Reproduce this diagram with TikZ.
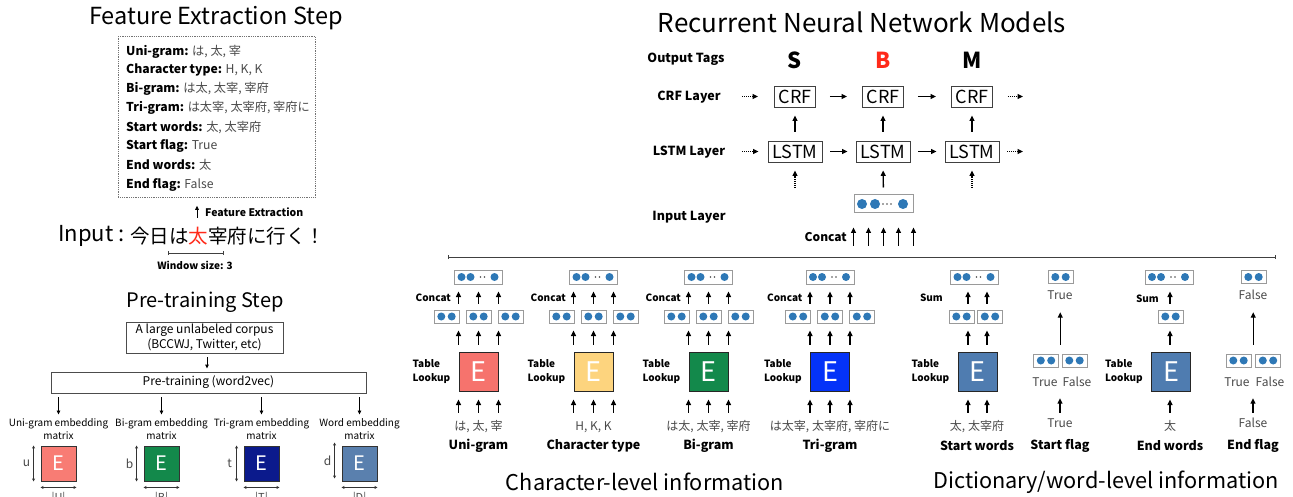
\documentclass[tikz,border=0pt]{standalone}
\usepackage{fontspec}
\setmainfont{Noto Sans CJK JP}
\usetikzlibrary{arrows.meta,calc}
\definecolor{valg}{HTML}{4A4A4A}
\definecolor{dotc}{HTML}{2E78B6}
\definecolor{cUni}{HTML}{F6736D}
\definecolor{cUniP}{HTML}{F87C74}
\definecolor{cTyp}{HTML}{FDD47E}
\definecolor{cBi}{HTML}{13894B}
\definecolor{cTri}{HTML}{0433F8}
\definecolor{cTriP}{HTML}{0B1A8C}
\definecolor{cWrd}{HTML}{4F7CB0}
\definecolor{cWrdP}{HTML}{5A80AE}
\definecolor{tagred}{HTML}{FF2A1A}
\definecolor{vbord}{HTML}{9A9A9A}
\newcommand\fsz[1]{\fontsize{#1}{#1}\selectfont}
\tikzset{
  x=1pt,y=-1pt,
  arr/.style={-{Triangle[length=5.5pt,width=5pt]},line width=1.3pt},
  darr/.style={arr,dash pattern=on 1pt off 1pt},
  sarr/.style={-{Triangle[length=4pt,width=3.6pt]},line width=0.9pt},
  vb/.style={draw=vbord,fill=white,line width=1pt,inner sep=0pt,minimum height=13pt},
  sq/.style={draw=black!85,line width=1pt,minimum size=39pt,inner sep=0pt,text=white,font=\fsz{27}},
  psq/.style={draw=black!80,line width=0.9pt,minimum size=35pt,inner sep=0pt,text=white,font=\fsz{20}},
  lab/.style={font=\bfseries\fontsize{10}{14}\selectfont,inner sep=0pt,align=left},
  rlab/.style={font=\bfseries\fsz{12.5},inner sep=0pt},
  val/.style={font=\fsz{12},text=valg,inner sep=0pt,text height=9pt,text depth=2pt},
  gname/.style={font=\bfseries\fsz{12.5},inner sep=0pt},
  title/.style={font=\fsz{20},inner sep=0pt},
  fline/.style={anchor=west,font=\fsz{12.2},inner sep=0pt},
  rnnbox/.style={draw=black!75,line width=0.9pt,inner sep=0pt,minimum height=21pt,font=\fsz{18}},
  dimarr/.style={{Stealth[length=3pt,width=3pt]}-{Stealth[length=3pt,width=3pt]},line width=0.7pt,black!80},
  barline/.style={{Bar[width=4pt]}-{Bar[width=4pt]},line width=0.7pt,black!75},
}
\newcommand\twovec[3]{%
  \node[vb,minimum width=25pt] (#1) at (#2,#3) {};
  \fill[dotc] ($(#1.center)+(-5.2,0)$) circle (4pt) ($(#1.center)+(5.2,0)$) circle (4pt);}
\newcommand\longvec[3]{%
  \node[vb,minimum width=48pt,minimum height=14pt] (#1) at (#2,#3) {};
  \fill[dotc] ($(#1.center)+(-17,0)$) circle (4pt) ($(#1.center)+(-8,0)$) circle (4pt)
     ($(#1.center)+(16,0)$) circle (4pt);
  \fill[black!70] ($(#1.center)+(2,0)$) circle (0.8pt) ($(#1.center)+(6,0)$) circle (0.8pt);}
\newcommand\chargroup[5]{%
  \node[sq,fill=#3] (#1sq) at (#2,371.5) {E};
  \node[lab,anchor=east] (#1tl) at ($(#1sq.west)+(-8,0)$) {Table\\Lookup};
  \node[val] (#1in) at (#2,427) {#4};
  \node[gname] (#1nm) at (#2,446) {#5};
  \longvec{#1top}{#2}{277}
  \twovec{#1ma}{#2-32}{316.5}
  \twovec{#1mb}{#2}{316.5}
  \twovec{#1mc}{#2+32}{316.5}
  \node[lab,anchor=east] (#1cc) at ($(#1top.south west)+(-3,13)$) {Concat};
  \foreach \pa/\pb in {south west/north west,south/north,south east/north east}{
    \draw[arr,shorten <=8.5pt,shorten >=8pt] (#1sq.\pa |- #1in.north) -- (#1sq.\pa);
    \draw[arr,shorten <=7pt,shorten >=7pt] (#1sq.\pb) -- (#1sq.\pb |- #1ma.south);
    \draw[arr,shorten <=6pt,shorten >=7pt] (#1sq.\pb |- #1ma.north) -- (#1sq.\pb |- #1top.south);
  }}
\begin{document}
\begin{tikzpicture}
\useasboundingbox (0,0) rectangle (1293,497);
\fill[white] (0,0) rectangle (1293,497);
% ---------------- Feature extraction ----------------
\node[title,font=\fsz{23.5}] (fetitle) at (216,18) {Feature Extraction Step};
\node[draw=black!55,dash pattern=on 1pt off 0.8pt,line width=0.8pt,minimum width=197pt,minimum height=161pt,inner sep=0pt,anchor=north west] (fbox) at (118,36) {};
\node[fline] (fl1) at (126,51.7) {\textbf{Uni-gram:} \textcolor{valg}{は, 太, 宰}};
\node[fline] (fl2) at (126,70.3) {\textbf{Character type:} \textcolor{valg}{H, K, K}};
\node[fline] (fl3) at (126,89.3) {\textbf{Bi-gram:} \textcolor{valg}{は太, 太宰, 宰府}};
\node[fline] (fl4) at (126,108.3) {\textbf{Tri-gram:} \textcolor{valg}{は太宰, 太宰府, 宰府に}};
\node[fline] (fl5) at (126,127.3) {\textbf{Start words:} \textcolor{valg}{太, 太宰府}};
\node[fline] (fl6) at (126,146) {\textbf{Start flag:} \textcolor{valg}{True}};
\node[fline] (fl7) at (126,165.3) {\textbf{End words:} \textcolor{valg}{太}};
\node[fline] (fl8) at (126,184.7) {\textbf{End flag:} \textcolor{valg}{False}};
\coordinate (feA) at (197,218);
\draw[sarr,shorten >=8pt] (feA) -- (feA |- fbox.south);
\node[rlab,font=\bfseries\fsz{10.5},anchor=west] (fetxt) at (205,212) {Feature Extraction};
\node[anchor=west,font=\fsz{22},inner sep=0pt] (inp) at (58,236) {Input :};
\node[anchor=west,font=\fsz{19.5},inner sep=0pt] (sent) at (130,236) {今日は\textcolor{tagred}{太}宰府に行く！};
\coordinate (wA) at (168,253);
\coordinate (wB) at (224,253);
\draw[barline,line width=0.6pt] (wA) -- (wB);
\node[rlab,font=\bfseries\fsz{10}] (wtxt) at (195,265) {Window size: 3};
% ---------------- Pre-training ----------------
\node[title] (pttitle) at (205,302) {Pre-training Step};
\node[draw=black!70,line width=0.9pt,minimum width=157pt,minimum height=31pt,align=center,font=\fontsize{12}{15}\selectfont,inner sep=0pt] (corp) at (204.5,337.5) {A large unlabeled corpus\\(BCCWJ, Twitter, etc)};
\node[draw=black!70,line width=0.9pt,minimum width=315pt,minimum height=21pt,font=\fsz{12},inner sep=0pt] (ptbox) at (208.5,382.5) {Pre-training (word2vec)};
\draw[sarr,shorten <=4pt,shorten >=3pt] (corp.south -| 207,0) -- (ptbox.north -| 207,0);
\foreach \id/\x/\col/\lt/\sm/\bg/\dy in {U/58.5/cUniP/Uni-gram embedding/u/U/0,B/161.5/cBi/Bi-gram embedding/b/B/0,T/261.5/cTriP/Tri-gram embedding/t/T/0,D/359.5/cWrdP/Word embedding/d/D/-3}{
  \node[psq,fill=\col] (psq\id) at (\x,463.5) {E};
  \node[font=\fontsize{10}{12.5}\selectfont,align=center,inner sep=0pt] (emb\id) at (\x,429) {\lt\\matrix};
  \draw[sarr,shorten <=4pt,shorten >=4pt] (ptbox.south -| psq\id.center) -- (psq\id.center |- emb\id.north);
  \draw[dimarr] ($(psq\id.north west)+(-7,\dy)$) -- ($(psq\id.south west)+(-7,\dy)$);
  \node[font=\fsz{12},text=valg,inner sep=0pt] (dl\id) at ($(psq\id.west)+(-14,\dy)$) {\sm};
  \draw[dimarr] ($(psq\id.south west)+(0,6)$) -- ($(psq\id.south east)+(0,6)$);
  \node[font=\fsz{11},text=valg,inner sep=0pt] (dw\id) at ($(psq\id.south)+(0,17)$) {|\bg|};
}
% ---------------- RNN ----------------
\node[title,font=\fsz{26}] (rnntitle) at (862,22) {Recurrent Neural Network Models};
\node[rlab] (otl) at (686,59) {Output Tags};
\node[rlab] (crfl) at (689,97) {CRF Layer};
\node[rlab] (lstml) at (689,152) {LSTM Layer};
\node[rlab] (inl) at (689,217) {Input Layer};
\foreach \n/\x/\t/\c in {s/795/S/black,b/883/B/tagred,m/972/M/black}{
  \node[font=\bfseries\fsz{22},text=\c,inner sep=0pt] (tag\n) at (\x,60) {\t};
  \node[rnnbox,minimum width=41pt] (crf\n) at (\x,96.5) {CRF};
  \node[rnnbox,minimum width=54pt] (lstm\n) at (\x,151.5) {LSTM};
  \draw[arr,shorten <=9pt,shorten >=8pt] (lstm\n.north) -- (crf\n.south);
}
\draw[arr,shorten <=14pt,shorten >=15pt] (crfs.east) -- (crfb.west);
\draw[arr,shorten <=14pt,shorten >=15pt] (crfb.east) -- (crfm.west);
\draw[arr,shorten <=8pt,shorten >=8pt] (lstms.east) -- (lstmb.west);
\draw[arr,shorten <=8pt,shorten >=8pt] (lstmb.east) -- (lstmm.west);
\coordinate (crfin) at (742,96.5);
\coordinate (crfout) at (1023,96.5);
\coordinate (lstmin) at (742,151.5);
\coordinate (lstmout) at (1023,151.5);
\draw[darr,shorten >=16pt] (crfin) -- (crfs.west);
\draw[darr,shorten <=15pt] (crfm.east) -- (crfout);
\draw[darr,shorten >=9pt] (lstmin) -- (lstms.west);
\draw[darr,shorten <=8pt] (lstmm.east) -- (lstmout);
\coordinate (sin) at (795,188);
\coordinate (min) at (972,188);
\draw[darr,shorten >=8pt] (sin) -- (lstms.south);
\draw[darr,shorten >=8pt] (min) -- (lstmm.south);
\node[vb,minimum width=59pt,minimum height=18pt] (inbox) at (883.5,204) {};
\fill[dotc] ($(inbox.center)+(-21.5,0)$) circle (5pt) ($(inbox.center)+(-8.5,0)$) circle (5pt) ($(inbox.center)+(19.5,0)$) circle (5pt);
\fill[black!70] ($(inbox.center)+(-0.5,0)$) circle (0.8pt) ($(inbox.center)+(3.5,0)$) circle (0.8pt) ($(inbox.center)+(7.5,0)$) circle (0.8pt);
\draw[arr,shorten <=7pt,shorten >=8pt] (inbox.north) -- (lstmb.south);
\foreach \f in {0,0.25,0.5,0.75,1}{
  \draw[arr,shorten >=14pt] ($(inbox.south west)!\f!(inbox.south east)+(0,32)$) -- ($(inbox.south west)!\f!(inbox.south east)$);
}
\node[rlab,font=\bfseries\fsz{12},anchor=east] (ccin) at (847,237) {Concat};
\coordinate (lnA) at (448,257);
\coordinate (lnB) at (1276,257);
\draw[barline] (lnA) -- (lnB);
% ---------------- Character-level ----------------
\chargroup{uni}{478.5}{cUni}{は, 太, 宰}{Uni-gram}
\chargroup{typ}{593.5}{cTyp}{H, K, K}{Character type}
\chargroup{big}{708.5}{cBi}{は太, 太宰, 宰府}{Bi-gram}
\chargroup{trg}{830}{cTri}{は太宰, 太宰府, 宰府に}{Tri-gram}
\node[title,font=\fsz{21.7}] (cltitle) at (645,482) {Character-level information};
% ---------------- Start words ----------------
\node[sq,fill=cWrd] (swsq) at (977.5,371.5) {E};
\node[lab,anchor=east] (swtl) at ($(swsq.west)+(-8,0)$) {Table\\Lookup};
\node[val] (swin) at (977,427) {太, 太宰府};
\node[gname] (swnm) at (977,446) {Start words};
\longvec{swtop}{974.5}{277}
\twovec{swma}{961.5}{316.5}
\twovec{swmb}{990}{316.5}
\node[lab,anchor=east] (swsum) at (943,298) {Sum};
\foreach \xx in {968,987}{
  \draw[arr,shorten <=8.5pt,shorten >=8pt] (swin.north -| \xx,0) -- (swsq.south -| \xx,0);
  \draw[arr,shorten <=7pt,shorten >=7pt] (swsq.north -| \xx,0) -- (swma.south -| \xx,0);
  \draw[arr,shorten <=6pt,shorten >=7pt] (swma.north -| \xx,0) -- (swtop.south -| \xx,0);
}
% ---------------- Start flag ----------------
\twovec{sftop}{1060.5}{277}
\node[val] (sfout) at (1060,296) {True};
\twovec{sfa}{1046}{360.5}
\twovec{sfb}{1074.5}{360.5}
\node[val] (sfta) at (1045,383) {True};
\node[val] (sftb) at (1077,383) {False};
\node[val] (sfin) at (1060,424) {True};
\node[gname] (sfnm) at (1060,446) {Start flag};
\draw[arr,shorten <=5.5pt,shorten >=9.5pt] (sfin.north) -- (sfin.north |- sfta.south);
\coordinate (sfmid) at ($(sfa.north east)!0.5!(sfb.north west)$);
\draw[arr,shorten <=9pt,shorten >=10.5pt] (sfmid) -- (sfmid |- sfout.south);
% ---------------- End words ----------------
\node[sq,fill=cWrd] (ewsq) at (1171,371.5) {E};
\node[lab,anchor=east] (ewtl) at ($(ewsq.west)+(-8,0)$) {Table\\Lookup};
\node[val] (ewin) at (1170,427) {太};
\node[gname] (ewnm) at (1170,446) {End words};
\longvec{ewtop}{1169}{277}
\twovec{ewma}{1170.5}{316.5}
\node[lab,anchor=east] (ewsum) at (1159,299) {Sum};
\draw[arr,shorten <=8.5pt,shorten >=8pt] (ewin.north -| 1170,0) -- (ewsq.south -| 1170,0);
\draw[arr,shorten <=7pt,shorten >=7pt] (ewsq.north -| 1170,0) -- (ewma.south -| 1170,0);
\draw[arr,shorten <=6pt,shorten >=7pt] (ewma.north -| 1170,0) -- (ewtop.south -| 1170,0);
% ---------------- End flag ----------------
\twovec{eftop}{1253.5}{277}
\node[val] (efout) at (1253,296) {False};
\twovec{efa}{1238.5}{360.5}
\twovec{efb}{1268}{360.5}
\node[val] (efta) at (1237,383) {True};
\node[val] (eftb) at (1270,383) {False};
\node[val] (efin) at (1253,424) {False};
\node[gname] (efnm) at (1253,446) {End flag};
\draw[arr,shorten <=5.5pt,shorten >=9.5pt] (efin.north) -- (efin.north |- efta.south);
\coordinate (efmid) at ($(efa.north east)!0.5!(efb.north west)$);
\draw[arr,shorten <=9pt,shorten >=10.5pt] (efmid) -- (efmid |- efout.south);
\node[title,font=\fsz{21.7}] (dltitle) at (1106,482) {Dictionary/word-level information};
\end{tikzpicture}
\end{document}
